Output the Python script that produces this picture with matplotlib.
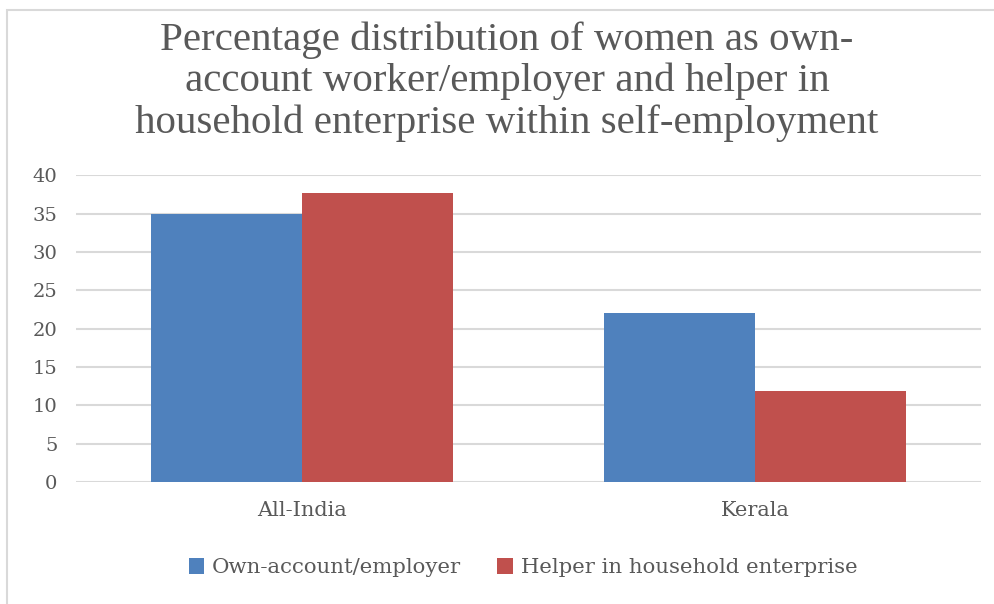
import matplotlib.pyplot as plt
import numpy as np
from matplotlib.patches import Rectangle

# data
categories = ['All-India', 'Kerala']
own_account = [35.0, 22.0]
helper = [37.7, 11.8]
series_names = ['Own-account/employer', 'Helper in household enterprise']
yticks = [0, 5, 10, 15, 20, 25, 30, 35, 40]

blue = '#4F81BD'
red = '#C0504D'
text_grey = '#595959'
grid_grey = '#D9D9D9'
title_font = ['Liberation Serif', 'DejaVu Serif']
label_font = ['DejaVu Serif']

fig = plt.figure(figsize=(9.94, 6.04), dpi=100)
ax = fig.add_axes([0.076, 0.202, 0.9114, 0.508])

# light frame around the chart area
fig.patches.append(Rectangle((7 / 994, -0.01), 1.0, 1 - 10 / 604 + 0.01,
                             transform=fig.transFigure, fill=False,
                             edgecolor=grid_grey, linewidth=1.5))

x = np.arange(len(categories))
w = 1 / 3
ax.bar(x - w / 2, own_account, w, color=blue, label=series_names[0], zorder=3)
ax.bar(x + w / 2, helper, w, color=red, label=series_names[1], zorder=3)

ax.set_xlim(-0.5, len(categories) - 0.5)
ax.set_ylim(0, 40)
ax.set_yticks(yticks)
ax.set_xticks(x)
ax.set_xticklabels(categories)
ax.yaxis.grid(True, color=grid_grey, linewidth=1.5, zorder=0)
ax.set_axisbelow(True)
for s in ax.spines.values():
    s.set_visible(False)
ax.tick_params(length=0, colors=text_grey)
ax.tick_params(axis='x', pad=14, labelsize=15)
ax.tick_params(axis='y', pad=13, labelsize=14)
for lab in ax.get_xticklabels() + ax.get_yticklabels():
    lab.set_family(label_font)

fig.text(0.51, 0.865,
         'Percentage distribution of women as own-\n'
         'account worker/employer and helper in\n'
         'household enterprise within self-employment',
         ha='center', va='center', fontsize=29.5, color=text_grey,
         family=title_font, linespacing=1.15)

leg = fig.legend(loc='center', bbox_to_anchor=(0.526, 0.06), ncol=2,
                 frameon=False, handlelength=0.75, handleheight=0.75,
                 handletextpad=0.35, columnspacing=1.7,
                 prop={'family': label_font, 'size': 15.3})
for t in leg.get_texts():
    t.set_color(text_grey)

fig.savefig('out.png', dpi=100)
